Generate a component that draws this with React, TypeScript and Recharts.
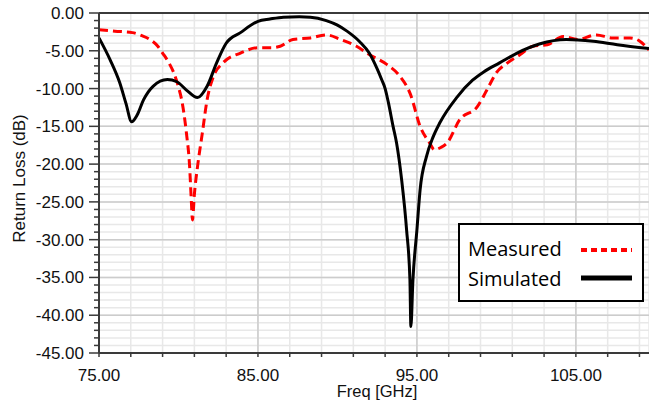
import React from 'react';
import { LineChart, Line, XAxis, YAxis, CartesianGrid, ReferenceLine } from 'recharts';

const simFreq = [75.0, 75.7, 76.3, 76.7, 77.05, 77.4, 77.8, 78.4, 79.3, 79.9, 80.5, 81.2, 81.8, 82.4, 83.0, 83.9, 85.0, 85.75, 86.6, 87.6, 88.3, 89.3, 90.0, 90.6, 91.4, 92.0, 92.5, 92.78, 93.0, 93.2, 93.5, 93.72, 94.04, 94.35, 94.56, 94.62, 94.75, 95.0, 95.2, 95.6, 96.0, 96.45, 97.5, 98.5, 99.2, 100.2, 101.3, 102.7, 104.4, 106.1, 107.6, 109.6];
const simLoss = [-3.3, -6.2, -9.2, -12.0, -14.4, -13.5, -11.5, -9.7, -8.8, -9.1, -10.2, -11.2, -9.7, -6.6, -4.0, -2.6, -1.1, -0.8, -0.55, -0.5, -0.55, -1.0, -1.6, -2.4, -3.8, -5.3, -7.4, -8.8, -10.0, -11.8, -15.0, -17.2, -22.1, -28.7, -35.3, -41.5, -35.3, -28.7, -23.4, -19.0, -16.5, -14.5, -11.2, -8.9, -7.8, -6.6, -5.3, -4.1, -3.5, -3.75, -4.2, -4.7];

const measFreq = [75.0, 76.0, 77.1, 77.7, 78.2, 78.7, 79.0, 79.4, 79.7, 80.0, 80.2, 80.5, 80.7, 80.8, 80.88, 81.0, 81.2, 81.5, 81.8, 82.2, 82.8, 83.9, 85.0, 85.8, 86.4, 87.2, 88.3, 89.3, 90.2, 91.2, 92.0, 93.1, 93.9, 94.6, 95.2, 95.8, 96.1, 96.5, 96.9, 97.7, 98.8, 99.4, 100.0, 100.7, 101.5, 102.3, 103.2, 104.2, 105.1, 106.3, 107.3, 108.4, 109.0, 109.6];
const measLoss = [-2.2, -2.4, -2.6, -3.0, -3.5, -4.4, -5.3, -6.6, -7.9, -9.8, -11.5, -15.9, -20.3, -24.5, -27.4, -24.0, -20.3, -15.9, -11.5, -8.4, -6.6, -5.3, -4.6, -4.6, -4.4, -3.5, -3.3, -2.9, -3.5, -4.4, -5.5, -6.8, -8.3, -10.8, -15.0, -17.2, -18.1, -17.8, -17.2, -14.1, -12.4, -10.2, -7.9, -6.6, -5.5, -4.4, -4.2, -3.1, -3.5, -2.9, -3.3, -3.3, -3.7, -4.9];

const xTicks = [75, 77, 79, 81, 83, 85, 87, 89, 91, 93, 95, 97, 99, 101, 103, 105, 107, 109];
const xMajor = [85, 95, 105];
const xLabels = [75, 85, 95, 105];
const yTicks = Array.from({ length: 46 }, (_, i) => -45 + i);
const yMajor = [-5, -10, -15, -20, -25, -30, -35, -40];

const simData = simFreq.map((f, i) => ({ f, v: simLoss[i] }));
const measData = measFreq.map((f, i) => ({ f, v: measLoss[i] }));

const AXIS_COLOR = '#3a3a3a';
const FONT = '"Liberation Sans", Arial, sans-serif';
const LFONT = '"Open Sans", sans-serif';

const XTick = (props: any) => {
  const { x, y, payload } = props;
  if (!xLabels.includes(payload.value)) return null;
  return (
    <text x={x} y={y + 24} textAnchor="middle" fontFamily={FONT} fontSize={17} fill="#111">
      {payload.value.toFixed(2)}
    </text>
  );
};

const YTick = (props: any) => {
  const { x, y, payload } = props;
  const major = payload.value % 5 === 0;
  return (
    <g>
      <line x1={x - (major ? 10 : 5)} x2={x} y1={y} y2={y} stroke={AXIS_COLOR} strokeWidth={1.5} />
      {major && (
        <text x={x - 15} y={y + 6} textAnchor="end" fontFamily={FONT} fontSize={17} fill="#111">
          {payload.value.toFixed(2)}
        </text>
      )}
    </g>
  );
};

const LegendBox = () => (
  <div style={{ position: 'absolute', left: 458, top: 223, width: 186, height: 79, border: '2px solid #000', boxSizing: 'border-box', background: '#fff' }}>
    <svg width={182} height={75} style={{ position: 'absolute', left: 0, top: 0 }}>
      <text x={8} y={31} fontFamily={LFONT} fontSize={20} fill="#000">Measured</text>
      <line x1={121} x2={172} y1={25} y2={25} stroke="#ff0000" strokeWidth={4} strokeDasharray="6 4" />
      <text x={8} y={61} fontFamily={LFONT} fontSize={20} fill="#000">Simulated</text>
      <line x1={121} x2={172} y1={53} y2={53} stroke="#000" strokeWidth={5} />
    </svg>
  </div>
);

export default function App() {
  return (
    <div style={{ position: 'absolute', left: 0, top: 0, width: 649, height: 403, background: '#fff' }}>
      <LineChart width={649} height={403} margin={{ top: 13, right: 0, bottom: 0, left: 0 }}>
        <CartesianGrid stroke="#e8e8e8" strokeWidth={1.5} />
        {yMajor.map((v) => (
          <ReferenceLine key={'y' + v} y={v} stroke="#cccccc" strokeWidth={1.5} />
        ))}
        {xMajor.map((v) => (
          <ReferenceLine key={'x' + v} x={v} stroke="#cccccc" strokeWidth={1.5} />
        ))}
        <ReferenceLine y={0} stroke={AXIS_COLOR} strokeWidth={2} />
        <XAxis
          type="number"
          dataKey="f"
          domain={[75, 109.6]}
          ticks={xTicks}
          allowDataOverflow
          interval={0}
          height={50}
          tickSize={4}
          tickMargin={0}
          tick={<XTick />}
          axisLine={{ stroke: AXIS_COLOR, strokeWidth: 2 }}
          tickLine={{ stroke: AXIS_COLOR, strokeWidth: 1.5 }}
          label={(p: any) => {
            const vb = p.viewBox;
            return (
              <text x={vb.x + vb.width / 2 + 3} y={397} textAnchor="middle" fontFamily={FONT} fontSize={16.5} fill="#111">
                Freq [GHz]
              </text>
            );
          }}
        />
        <YAxis
          type="number"
          dataKey="v"
          domain={[-45, 0]}
          ticks={yTicks}
          interval={0}
          width={99}
          tickSize={0}
          tickMargin={0}
          tick={<YTick />}
          tickLine={false}
          axisLine={{ stroke: AXIS_COLOR, strokeWidth: 2 }}
          label={() => (
            <text x={25} y={178.5} transform="rotate(-90 25 178.5)" textAnchor="middle" fontFamily={FONT} fontSize={17} fill="#111">
              Return Loss (dB)
            </text>
          )}
        />
        <Line data={measData} dataKey="v" type="monotone" stroke="#ff0000" strokeWidth={3} strokeDasharray="9 5" dot={false} isAnimationActive={false} name="Measured" />
        <Line data={simData} dataKey="v" type="monotone" stroke="#000000" strokeWidth={3} dot={false} isAnimationActive={false} name="Simulated" />
      </LineChart>
      <LegendBox />
    </div>
  );
}
